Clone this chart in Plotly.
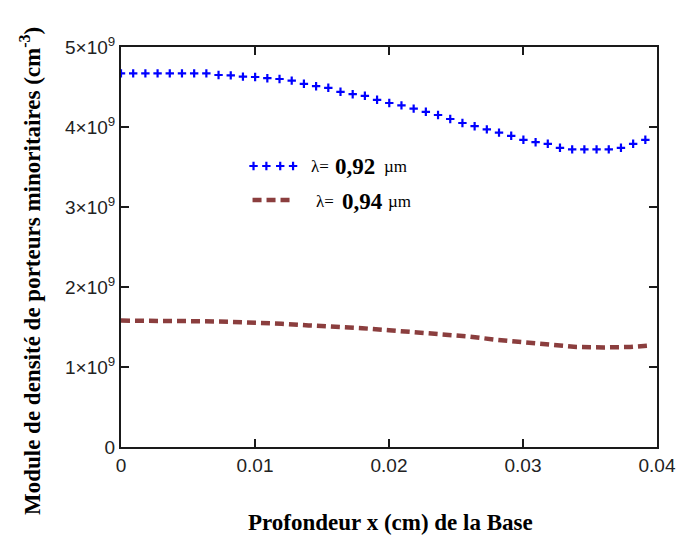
import plotly.graph_objects as go

# ---- data ----
x_blue = [0.0, 0.00091, 0.00182, 0.00273, 0.00364, 0.00455, 0.00546, 0.00637,
          0.00728, 0.00819, 0.0091, 0.01001, 0.01092, 0.01183, 0.01274, 0.01365,
          0.01456, 0.01547, 0.01638, 0.01729, 0.0182, 0.01911, 0.02002, 0.02093,
          0.02184, 0.02275, 0.02366, 0.02457, 0.02548, 0.02639, 0.0273, 0.02821,
          0.02912, 0.03003, 0.03094, 0.03185, 0.03276, 0.03367, 0.03458, 0.03549,
          0.0364, 0.03731, 0.03822, 0.03913]
y_blue = [4.67, 4.67, 4.67, 4.67, 4.67, 4.67, 4.67, 4.67,
          4.65, 4.645, 4.63, 4.625, 4.61, 4.60, 4.58, 4.54,
          4.51, 4.49, 4.44, 4.41, 4.39, 4.34, 4.30, 4.27,
          4.23, 4.19, 4.15, 4.10, 4.05, 4.01, 3.97, 3.93,
          3.89, 3.84, 3.81, 3.79, 3.74, 3.72, 3.72, 3.72,
          3.72, 3.74, 3.79, 3.84]

x_red = [0.0, 0.002, 0.004, 0.006, 0.008, 0.010, 0.012, 0.014, 0.016, 0.018,
         0.020, 0.022, 0.024, 0.026, 0.028, 0.030, 0.032, 0.034, 0.036, 0.038, 0.0395]
y_red = [1.58, 1.58, 1.578, 1.572, 1.565, 1.555, 1.54, 1.52, 1.505, 1.485,
         1.46, 1.435, 1.41, 1.38, 1.34, 1.31, 1.275, 1.25, 1.245, 1.25, 1.27]

scale = 1e9
x_ticks = [0, 0.01, 0.02, 0.03, 0.04]
x_tick_text = ["0", "0.01", "0.02", "0.03", "0.04"]
y_ticks = [0, 1e9, 2e9, 3e9, 4e9, 5e9]
y_tick_text = ["0", "1×10<sup>9</sup>", "2×10<sup>9</sup>", "3×10<sup>9</sup>",
               "4×10<sup>9</sup>", "5×10<sup>9</sup>"]

legend_blue = ["λ=", "0,92", "µm"]
legend_red = ["λ=", "0,94", "µm"]
x_title = "Profondeur x (cm) de la Base"
y_title = "Module de densité de porteurs minoritaires (cm<sup>-3</sup>)"

BLUE = "#0000FF"
RED = "#8B3E3E"
OFF = 8  # page body margin
W, H = 688 - OFF, 539 - OFF
L, R, T, B = 121 - OFF, 25, 47 - OFF, 92
PW, PH = W - L - R, H - T - B


def px(xs):  # screenshot x -> overlay axis units (pixels from plot left)
    return xs - OFF - L


def py(ys):  # screenshot y -> overlay axis units (pixels from plot top)
    return ys - OFF - T


def paper_x(xs):
    return (xs - OFF - L) / PW


def paper_y(ys):
    return (T + PH - (ys - OFF)) / PH


fig = go.Figure()
fig.add_trace(go.Scatter(
    x=x_blue, y=[v * scale for v in y_blue], mode="markers",
    marker=dict(symbol="cross-thin", size=6, color=BLUE, line=dict(width=2.2, color=BLUE)),
    showlegend=False, name="0.92"))
fig.add_trace(go.Scatter(
    x=x_red, y=[v * scale for v in y_red], mode="lines",
    line=dict(color=RED, width=4.5, dash="9px,5px"),
    showlegend=False, name="0.94"))

# legend samples on a hidden overlay axis in pixel units of the plot area
fig.add_trace(go.Scatter(
    x=[px(v) for v in [255, 268, 282, 295]], y=[py(166)] * 4, mode="markers",
    marker=dict(symbol="cross-thin", size=6, color=BLUE, line=dict(width=2.2, color=BLUE)),
    xaxis="x2", yaxis="y2", showlegend=False, hoverinfo="skip"))
fig.add_trace(go.Scatter(
    x=[px(254), px(296)], y=[py(200), py(200)], mode="lines",
    line=dict(color=RED, width=4.5, dash="9px,5px"),
    xaxis="x2", yaxis="y2", showlegend=False, hoverinfo="skip"))


def legend_text(parts, xs, ys):
    specs = [(parts[0], xs[0], 17, False), (parts[1], xs[1], 23, True), (parts[2], xs[2], 17, False)]
    for txt, xx, sz, bold in specs:
        fig.add_annotation(xref="x2", yref="y2", x=px(xx), y=py(ys), xanchor="left",
                           yanchor="middle", showarrow=False,
                           text=f"<b>{txt}</b>" if bold else txt,
                           font=dict(family="Liberation Serif", size=sz, color="black"))


legend_text(legend_blue, [311, 335, 385], 166)
legend_text(legend_red, [316, 342, 389], 201)

# axis titles
fig.add_annotation(xref="paper", yref="paper", x=paper_x(394), y=paper_y(522),
                   xanchor="center", yanchor="middle", showarrow=False,
                   text=f"<b>{x_title}</b>",
                   font=dict(family="Liberation Serif", size=23, color="black"))
fig.add_annotation(xref="paper", yref="paper", x=paper_x(29), y=paper_y(271),
                   xanchor="center", yanchor="middle", showarrow=False, textangle=-90,
                   text=f"<b>{y_title}</b>",
                   font=dict(family="Liberation Serif", size=23, color="black"))

axis_common = dict(showgrid=False, zeroline=False, showline=True, linecolor="#1a1a1a",
                   linewidth=2, mirror="ticks", ticks="inside", ticklen=8,
                   tickwidth=2, tickcolor="#1a1a1a",
                   tickfont=dict(family="Liberation Sans", size=19, color="#222"))

fig.update_layout(
    width=W, height=H, margin=dict(l=L, r=R, t=T, b=B),
    paper_bgcolor="white", plot_bgcolor="white",
    xaxis=dict(range=[0, 0.04], tickvals=x_ticks, ticktext=x_tick_text, **axis_common),
    yaxis=dict(range=[0, 5e9], tickvals=y_ticks, ticktext=y_tick_text, **axis_common),
    xaxis2=dict(overlaying="x", range=[0, PW], visible=False),
    yaxis2=dict(overlaying="y", range=[PH, 0], visible=False),
    showlegend=False,
)

fig.write_html("out.html")
